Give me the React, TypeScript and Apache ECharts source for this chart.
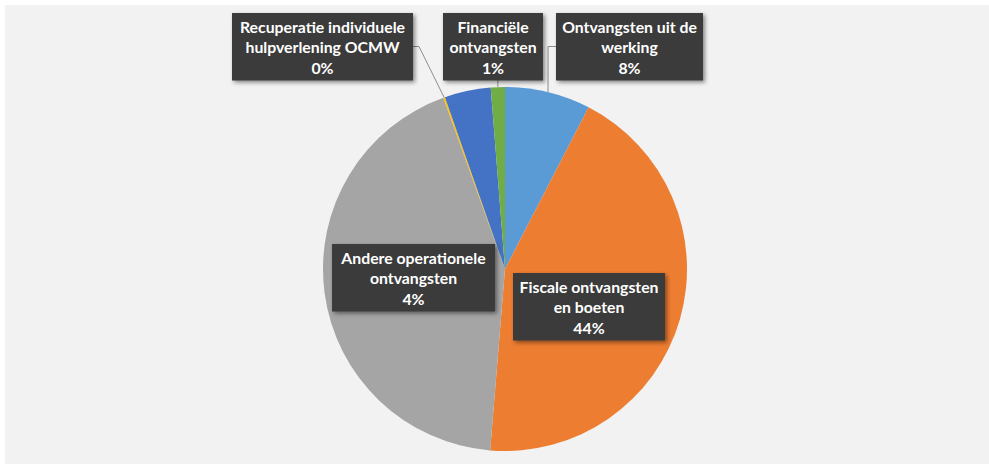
import React, { useEffect, useRef } from "react";
import * as echarts from "echarts";

// Categories (clockwise from 12 o'clock)
const categories = [
  "Ontvangsten uit de werking",
  "Fiscale ontvangsten en boeten",
  "Overige ontvangsten",
  "Recuperatie individuele hulpverlening OCMW",
  "Andere operationele ontvangsten",
  "Financiële ontvangsten",
];
// Share of total (%)
const shares = [7.6, 43.7, 43.2, 0.15, 4.1, 1.25];
const colors = ["#5b9bd5", "#ed7d31", "#a5a5a5", "#ffc000", "#4472c4", "#70ad47"];
// Wrapped label texts as shown in the chart (null = no label)
const labelTexts: (string | null)[] = [
  "Ontvangsten uit de\nwerking",
  "Fiscale ontvangsten\nen boeten",
  null,
  "Recuperatie individuele\nhulpverlening OCMW",
  "Andere operationele\nontvangsten",
  "Financiële\nontvangsten",
];

// Label box placement (left, top, width) per data index
const labelBoxes: Record<number, { left: number; top: number; w: number; line?: "left" | "right" | "down" }> = {
  0: { left: 556, top: 13, w: 147, line: "left" },
  1: { left: 513, top: 273, w: 152 },
  3: { left: 232, top: 13, w: 181, line: "right" },
  4: { left: 332, top: 244, w: 163 },
  5: { left: 443, top: 13, w: 100, line: "down" },
};
const BOX_H = 67;

export default function App() {
  const ref = useRef<HTMLDivElement>(null);
  useEffect(() => {
    if (!ref.current) return;
    const chart = echarts.init(ref.current, undefined, { renderer: "svg" });
    const total = shares.reduce((a, b) => a + b, 0);
    const data = categories.map((name, i) => {
      const box = labelBoxes[i];
      return {
        name,
        value: shares[i],
        itemStyle: { color: colors[i] },
        label: { show: labelTexts[i] !== null, width: box ? box.w - 8 : undefined },
        labelLine: { show: !!(box && box.line) },
      };
    });
    chart.setOption({
      animation: false,
      backgroundColor: "#ffffff",
      graphic: [
        {
          type: "rect",
          shape: { x: 5, y: 5, width: 984, height: 459 },
          style: { fill: "#f2f2f2" },
          z: -10,
          silent: true,
        },
      ],
      series: [
        {
          type: "pie",
          center: [505, 269],
          radius: 182,
          startAngle: 90,
          clockwise: true,
          avoidLabelOverlap: false,
          itemStyle: { borderWidth: 0 },
          data,
          label: {
            position: "outside",
            formatter: (p: any) => {
              const t = labelTexts[p.dataIndex];
              const pct = Math.round((p.value / total) * 100);
              return `${t}\n${pct}%`;
            },
            color: "#ffffff",
            fontFamily: "Lato",
            fontWeight: "bold",
            fontSize: 15.8,
            lineHeight: 20.5,
            align: "center",
            backgroundColor: "#3a3a3a",
            padding: [3, 4],
            shadowColor: "rgba(0,0,0,0.45)",
            shadowBlur: 4,
            shadowOffsetX: 2,
            shadowOffsetY: 2,
          },
          labelLine: {
            lineStyle: { color: "#8c8c8c", width: 1 },
          },
          labelLayout: (params: any) => {
            const box = labelBoxes[params.dataIndex];
            if (!box) return {};
            const res: any = {
              x: box.left + box.w / 2,
              y: box.top,
              align: "center",
              verticalAlign: "top",
            };
            const pts = params.labelLinePoints;
            if (box.line && pts && pts.length) {
              const p0 = pts[0];
              const midY = box.top + BOX_H * 0.5;
              if (box.line === "left") {
                res.labelLinePoints = [p0, [p0[0], midY], [box.left, midY]];
              } else if (box.line === "right") {
                const r = box.left + box.w;
                res.labelLinePoints = [p0, [r + 6, midY], [r, midY]];
              } else {
                const bottom = box.top + BOX_H;
                res.labelLinePoints = [p0, [p0[0], (p0[1] + bottom) / 2], [p0[0], bottom]];
              }
            }
            return res;
          },
        },
      ],
    });
    return () => chart.dispose();
  }, []);
  return (
    <div
      ref={ref}
      style={{ position: "fixed", left: 0, top: 0, width: 989, height: 464 }}
    />
  );
}
